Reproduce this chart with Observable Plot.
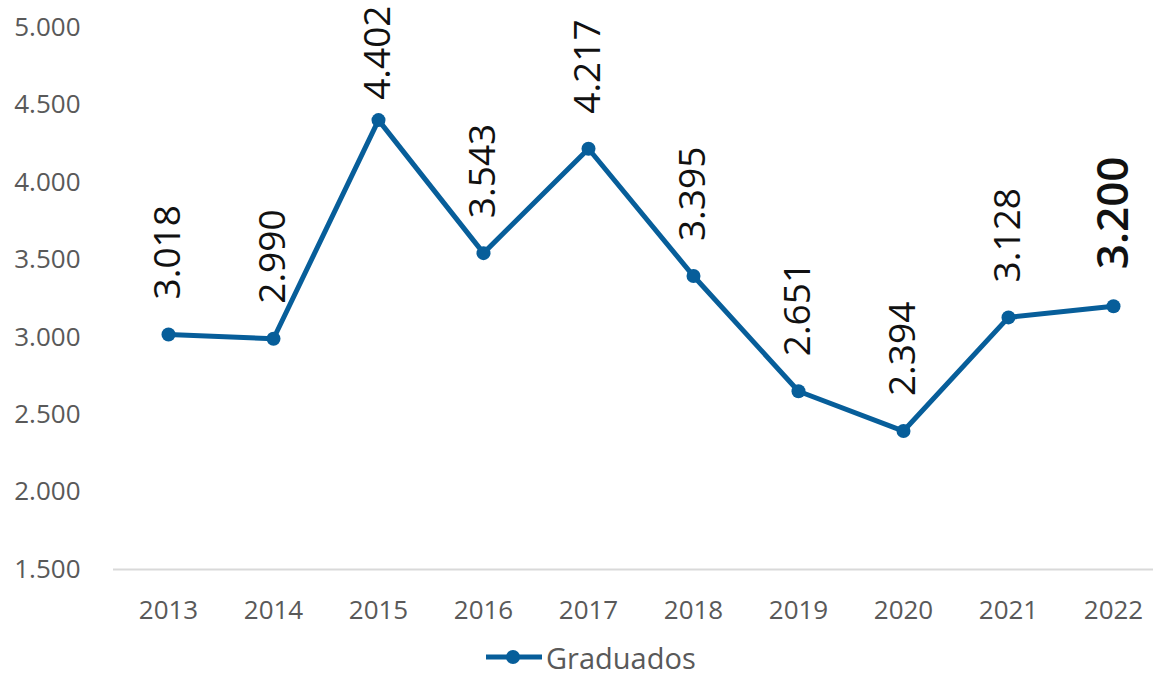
<!DOCTYPE html>
<html>
<head>
<meta charset="utf-8">
<script src="https://cdn.jsdelivr.net/npm/d3@7"></script>
<script src="https://cdn.jsdelivr.net/npm/@observablehq/plot@0.6"></script>
<style>
  html, body { margin: 0; padding: 0; background: #ffffff; }
  #wrap { width: 1153px; height: 679px; overflow: hidden; position: relative; font-family: "Open Sans", sans-serif; }
  #legend { height: 44px; display: flex; align-items: center; margin-left: 485px; color: #595959; font-size: 29px; }
  #legend svg { margin-right: 3px; }
</style>
</head>
<body>
<div id="wrap">
  <div id="chart"></div>
  <div id="legend"></div>
</div>
<script>
const years = ["2013","2014","2015","2016","2017","2018","2019","2020","2021","2022"];
const graduados = [3018, 2990, 4402, 3543, 4217, 3395, 2651, 2394, 3128, 3200];
const yTicks = [1500, 2000, 2500, 3000, 3500, 4000, 4500, 5000];
const seriesName = "Graduados";
const highlightYear = "2022";
const clampAbove = 4300; // labels of values above this are pinned to the top of the chart

const color = "#075e9a";
const axisColor = "#595959";
const fmt = d3.formatLocale({decimal: ",", thousands: ".", grouping: [3], currency: ["", ""]}).format(",d");

const data = years.map((y, i) => ({year: y, value: graduados[i]}));
const normal = data.filter(d => d.year !== highlightYear && d.value <= clampAbove);
const pinned = data.filter(d => d.year !== highlightYear && d.value > clampAbove);
const highlight = data.filter(d => d.year === highlightYear);

const chart = Plot.plot({
  width: 1153,
  height: 635,
  marginTop: 27,
  marginBottom: 66,
  marginLeft: 113,
  marginRight: 0,
  style: {fontFamily: "Open Sans, sans-serif", color: axisColor, background: "transparent", overflow: "visible"},
  x: {type: "point", domain: years, padding: 0.4335, align: 0.58},
  y: {domain: [1500, 5000]},
  marks: [
    Plot.ruleY([1500], {stroke: "#d9d9d9", strokeWidth: 2}),
    Plot.axisY({ticks: yTicks, tickSize: 0, tickPadding: 33, tickFormat: fmt, fontSize: 26, fill: axisColor, label: null}),
    Plot.axisX({tickSize: 0, tickPadding: 31, fontSize: 26, fill: axisColor, label: null}),
    Plot.text(normal, {x: "year", y: "value", text: d => fmt(d.value), rotate: -90, textAnchor: "start", lineAnchor: "middle", dy: -35, fontSize: 37, fill: "#111111"}),
    Plot.text(pinned, {x: "year", frameAnchor: "top", text: d => fmt(d.value), rotate: -90, textAnchor: "end", lineAnchor: "middle", dy: -22, fontSize: 37, fill: "#111111"}),
    Plot.text(highlight, {x: "year", y: "value", text: d => fmt(d.value), rotate: -90, textAnchor: "start", lineAnchor: "middle", dy: -37, fontSize: 44, fontWeight: 600, fill: "#111111"}),
    Plot.line(data, {x: "year", y: "value", stroke: color, strokeWidth: 5, strokeLinejoin: "round"}),
    Plot.dot(data, {x: "year", y: "value", r: 7, fill: color, stroke: "none"})
  ]
});
document.getElementById("chart").appendChild(chart);

const legend = document.getElementById("legend");
legend.innerHTML = `<svg width="58" height="20" viewBox="0 0 58 20"><line x1="1" y1="10" x2="57" y2="10" stroke="${color}" stroke-width="5"/><circle cx="28" cy="10" r="7" fill="${color}"/></svg><span>${seriesName}</span>`;
</script>
</body>
</html>
